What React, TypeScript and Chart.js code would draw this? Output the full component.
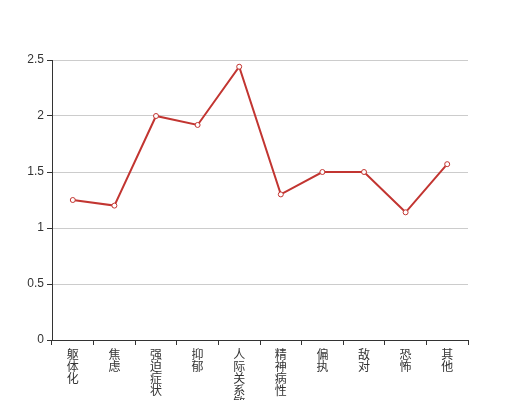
import React, { useEffect, useRef } from "react";
import { Chart, registerables } from "chart.js";

Chart.register(...registerables);

const categories = ["躯体化", "焦虑", "强迫症状", "抑郁", "人际关系敏感", "精神病性", "偏执", "敌对", "恐怖", "其他"];
const values = [1.25, 1.2, 2.0, 1.92, 2.44, 1.3, 1.5, 1.5, 1.14, 1.57];
const yTicks = [0, 0.5, 1, 1.5, 2, 2.5];

export default function App() {
  const ref = useRef<HTMLCanvasElement | null>(null);
  useEffect(() => {
    document.body.style.margin = "0";
    const ctx = ref.current!;
    const chart = new Chart(ctx, {
      type: "line",
      data: {
        labels: categories.map((c) => c.split("")),
        datasets: [
          {
            data: values,
            borderColor: "#c23531",
            borderWidth: 2,
            pointRadius: 2.5,
            pointBorderWidth: 1,
            pointBackgroundColor: "#ffffff",
            pointBorderColor: "#c23531",
            tension: 0,
            fill: false,
          },
        ],
      },
      options: {
        animation: false,
        responsive: false,
        layout: { padding: { top: 60, right: 52, left: 0, bottom: 0 } },
        plugins: { legend: { display: false }, tooltip: { enabled: false } },
        scales: {
          x: {
            type: "category",
            offset: true,
            grid: {
              offset: true,
              drawOnChartArea: false,
              drawTicks: true,
              tickLength: 5,
              tickColor: "#333",
              color: "#333",
            },
            border: { color: "#333", width: 1 },
            ticks: {
              autoSkip: false,
              maxRotation: 0,
              minRotation: 0,
              padding: 3,
              color: "#333",
              font: { family: "'Noto Sans CJK SC', sans-serif", size: 12, lineHeight: "12px" },
            },
            afterFit: (s: any) => {
              s.height = 60;
            },
          },
          y: {
            min: 0,
            max: 2.5,
            afterBuildTicks: (s: any) => {
              s.ticks = yTicks.map((v) => ({ value: v }));
            },
            grid: {
              color: "#cccccc",
              drawTicks: true,
              tickLength: 5,
              tickColor: "#333",
            },
            border: { color: "#333", width: 1 },
            ticks: {
              padding: 3,
              color: "#333",
              font: { family: "sans-serif", size: 12 },
              callback: (v: any) => String(v),
            },
            afterFit: (s: any) => {
              s.width = 52;
            },
          },
        },
      },
    });
    return () => chart.destroy();
  }, []);
  return <canvas ref={ref} width={520} height={400} style={{ display: "block" }} />;
}
